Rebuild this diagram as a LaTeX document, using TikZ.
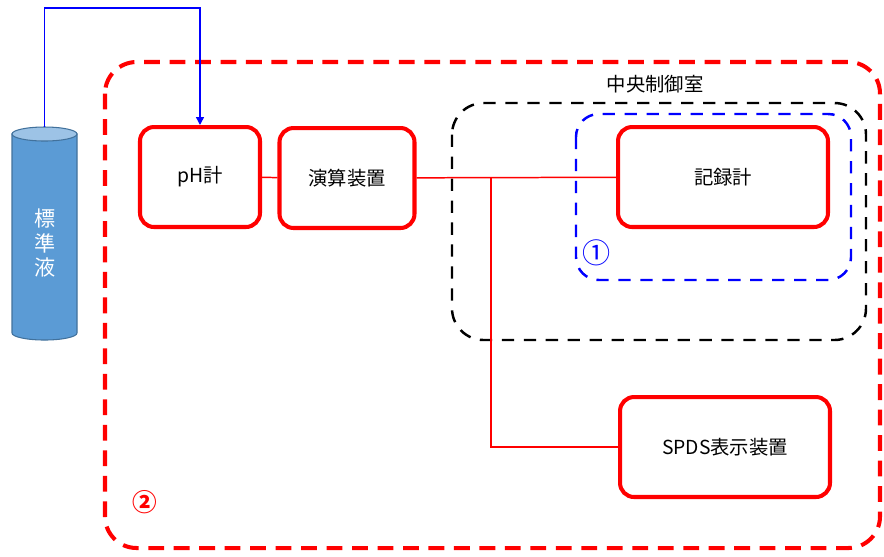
\documentclass[tikz,border=0pt]{standalone}
\usepackage{fontspec}
\setmainfont{Noto Sans CJK JP}
\usepackage{tikz}
\usetikzlibrary{shapes.geometric, arrows.meta, positioning}

\definecolor{tankblue}{HTML}{5B9BD5}
\definecolor{tanktop}{HTML}{9DC3E6}
\definecolor{tankline}{HTML}{41719C}

\begin{document}
\begin{tikzpicture}[x=0.02cm, y=-0.02cm, every node/.style={font=\fontsize{11}{13}\selectfont},
    unit/.style={draw=red, line width=2.3pt, rounded corners=8pt, fill=white, minimum height=2cm},
    wire/.style={draw=red, line width=0.85pt},
    feed/.style={draw=blue, line width=0.85pt, -{Triangle[width=4.5pt, length=4.5pt]}},
    zone/.style={rounded corners=18pt}]
    \useasboundingbox (0,0) rectangle (884,556);

    % Areas
    \draw[zone, red, line width=2.3pt, dash pattern=on 9pt off 5.5pt] (105,62) rectangle (880,548);
    \draw[zone, black, line width=1.4pt, dash pattern=on 7pt off 5.5pt] (452,103) rectangle (866,340);
    \draw[zone, blue, line width=1.4pt, dash pattern=on 7pt off 5.5pt, rounded corners=13pt] (576,114) rectangle (851,280);

    \node (room) at (655,84) {中央制御室};
    \node[blue, font=\fontsize{16}{16}\selectfont] (one) at (597,253) {①};
    \node[red, font=\fontsize{14}{14}\selectfont\bfseries] (two) at (145,502) {②};

    % Standard solution tank
    \filldraw[fill=tankblue, draw=tankline, line width=0.6pt]
        (12,134) -- (12,333) arc[start angle=180, end angle=0, x radius=32.5, y radius=7] -- (77,134) -- cycle;
    \filldraw[fill=tanktop, draw=tankline, line width=0.6pt] (44.5,134) ellipse[x radius=32.5, y radius=7];
    \coordinate (stdtop) at (44.5,127);
    \node[text=white, align=center, font=\fontsize{12}{14}\selectfont] (std) at (45,243) {標\\準\\液};

    % Units
    \node[unit, minimum width=2.4cm] (ph) at (200,177) {pH計};
    \node[unit, minimum width=2.7cm] (calc) at (347,178) {演算装置};
    \node[unit, minimum width=4.2cm] (rec) at (723,177) {記録計};
    \node[unit, minimum width=4.2cm] (spds) at (725,447) {SPDS表示装置};

    % Signal lines
    \draw[wire] (ph) -- (calc);
    \draw[wire] (calc) -- (rec);
    \coordinate (tap) at (491,178);
    \draw[wire] (tap) |- (spds);

    % Standard solution feed
    \draw[feed] (stdtop) -- ++(0,-119) -| (ph.north);
\end{tikzpicture}
\end{document}
